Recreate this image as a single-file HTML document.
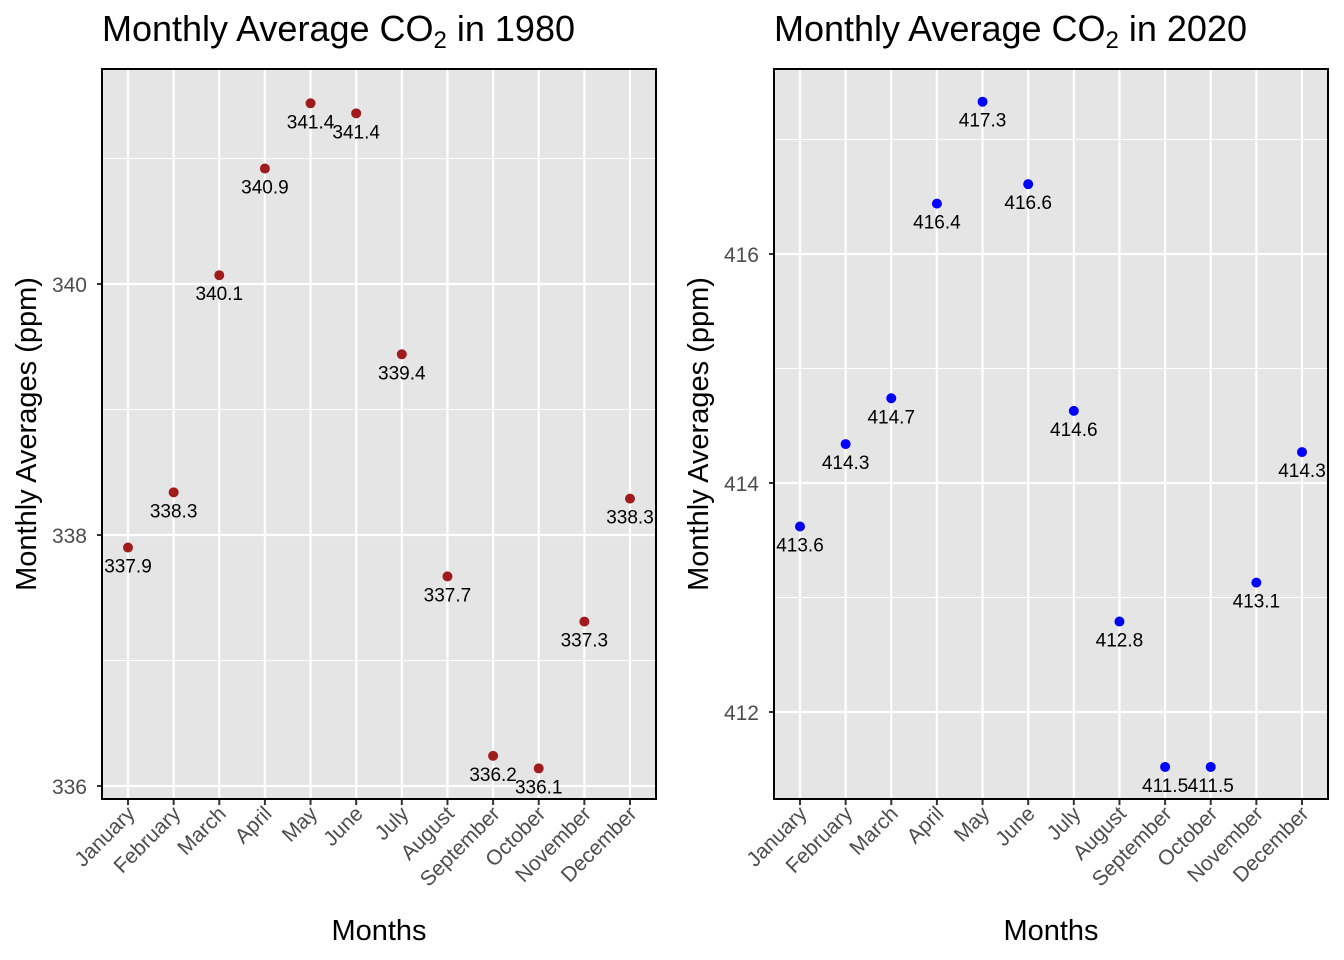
<!DOCTYPE html>
<html><head><meta charset="utf-8"><style>
body{margin:0;background:#fff;}
svg{display:block;font-family:"Liberation Sans",Arial,sans-serif;}
</style></head><body>
<svg id="c" width="1344" height="960" viewBox="0 0 1344 960" xmlns="http://www.w3.org/2000/svg"></svg>
<script>
const months = ["January","February","March","April","May","June","July","August","September","October","November","December"];
const values1980 = [337.90,338.34,340.07,340.92,341.44,341.36,339.44,337.67,336.24,336.14,337.31,338.29];
const values2020 = [413.62,414.34,414.74,416.44,417.33,416.61,414.63,412.79,411.52,411.52,413.13,414.27];
const ticks1980 = [336,338,340];
const ticks2020 = [412,414,416];
const NS="http://www.w3.org/2000/svg";
const svg=document.getElementById('c');
function mk(tag,attrs,parent){const e=document.createElementNS(NS,tag);for(const k in attrs)e.setAttribute(k,attrs[k]);(parent||svg).appendChild(e);return e;}
function panel(o){
  const g=mk('g',{});
  
  
  const L=o.x0,R=o.x0+554,T=69,B=799;
  const y=v=>o.yRef+(o.vRef-v)*o.ppu;
  const x=i=>L+26+i*(502/11);
  const bg=mk('rect',{x:L,y:T,width:R-L,height:B-T,fill:'#e5e5e5'},g);
  
  for(let i=0;i<o.ticks.length;i++){
    [o.ticks[i]-1,o.ticks[i]+1].forEach(v=>{const yy=y(v);if(yy>T&&yy<B){const l=mk('line',{x1:L,x2:R,y1:yy,y2:yy,stroke:'#fff','stroke-width':1},g);}});
  }
  o.ticks.forEach(v=>{const yy=y(v);
    const l=mk('line',{x1:L,x2:R,y1:yy,y2:yy,stroke:'#fff','stroke-width':2.2},g);
    
    const t=mk('line',{x1:L-5,x2:L,y1:yy,y2:yy,stroke:'#333','stroke-width':2},g);
    
    const tx=mk('text',{x:L-15,y:yy+8,'text-anchor':'end','font-size':21,fill:'#4d4d4d'},g);tx.textContent=v;
    
  });
  months.forEach((m,i)=>{const xx=x(i);
    const l=mk('line',{x1:xx,x2:xx,y1:T,y2:B,stroke:'#fff','stroke-width':2.2},g);
    
    const t=mk('line',{x1:xx,x2:xx,y1:B,y2:B+6,stroke:'#333','stroke-width':2},g);
    
    const tx=mk('text',{x:xx+8,y:B+16,'text-anchor':'end','font-size':21,fill:'#4d4d4d',transform:`rotate(-45 ${xx+8} ${B+16})`},g);tx.textContent=m;
    
  });
  o.vals.forEach((v,i)=>{
    const c=mk('circle',{cx:x(i),cy:y(v),r:5,fill:o.color},g);
    
    const t=mk('text',{x:x(i),y:y(v)+25,'text-anchor':'middle','font-size':19,fill:'#000'},g);t.textContent=(Math.round(v*10)/10).toFixed(1);
    
  });
  const fr=mk('rect',{x:L,y:T,width:R-L,height:B-T,fill:'none',stroke:'#000','stroke-width':2},g);
  
  const ti=mk('text',{x:L,y:41,'font-size':36,fill:'#000'},g);
  ti.innerHTML='Monthly Average CO<tspan font-size="24" dy="7">2</tspan><tspan dy="-7"> in '+o.year+'</tspan>';
  
  const xt=mk('text',{x:(L+R)/2,y:940,'text-anchor':'middle','font-size':29,fill:'#000'},g);xt.textContent='Months';
  
  const yx=L-66,yy=(T+B)/2;
  const yt=mk('text',{x:yx,y:yy,'text-anchor':'middle','font-size':29,fill:'#000',transform:`rotate(-90 ${yx} ${yy})`},g);yt.textContent='Monthly Averages (ppm)';
  
}
panel({name:'panel-1980',x0:102,vals:values1980,ticks:ticks1980,yRef:284,vRef:340,ppu:125.5,color:'#a01c1c',year:1980});
panel({name:'panel-2020',x0:774,vals:values2020,ticks:ticks2020,yRef:254,vRef:416,ppu:114.5,color:'#0000ff',year:2020});
</script>
</body></html>
